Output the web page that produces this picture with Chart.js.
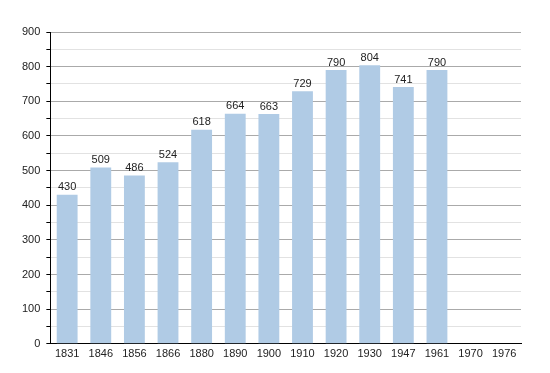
<!DOCTYPE html>
<html>
<head>
<meta charset="utf-8">
<script src="https://cdn.jsdelivr.net/npm/chart.js@4"></script>
<style>
    html, body { margin: 0; padding: 0; background: #fff; }
    #wrap { width: 550px; height: 373px; }
</style>
</head>
<body>
<div id="wrap"><canvas id="chart"></canvas></div>
<script>
const years = ["1831", "1846", "1856", "1866", "1880", "1890", "1900",
    "1910", "1920", "1930", "1947", "1961", "1970", "1976"];

const population = [430, 509, 486, 524, 618, 664, 663,
    729, 790, 804, 741, 790, null, null];

const yTicks = [0, 100, 200, 300, 400, 500, 600, 700, 800, 900];

const barColor = "#b0cbe5";

// values over the bars
const valueLabels = {
    id: "valueLabels",
    afterDatasetsDraw(chart) {
        const ctx = chart.ctx;
        const meta = chart.getDatasetMeta(0);
        ctx.save();
        ctx.font = "11px 'Liberation Sans', Arial, sans-serif";
        ctx.fillStyle = "#222";
        ctx.textAlign = "center";
        ctx.textBaseline = "bottom";
        meta.data.forEach((bar, i) => {
            const v = population[i];
            if (v == null) return;
            ctx.fillText(String(v), bar.x, bar.y - 2);
        });
        ctx.restore();
    }
};

new Chart(
    document.getElementById("chart").getContext("2d"),
{
    type: "bar",
    data: {
        labels: years,
        datasets: [{
            data: population,
            backgroundColor: barColor,
            borderWidth: 0,
            categoryPercentage: 1,
            barPercentage: 0.62
        }]
    },
    options: {
        responsive: true,
        maintainAspectRatio: false,
        animation: false,
        layout: {
            padding: { top: 32, right: 29, bottom: 8, left: 16 }
        },
        plugins: {
            legend: { display: false },
            tooltip: { enabled: false }
        },
        scales: {
            x: {
                grid: { display: false, drawTicks: false },
                border: { color: "#000", width: 1 },
                ticks: {
                    color: "#222",
                    padding: 4,
                    maxRotation: 0,
                    autoSkip: false,
                    font: { family: "'Liberation Sans', Arial, sans-serif", size: 11 }
                }
            },
            y: {
                min: 0,
                max: 900,
                border: { color: "#000", width: 1 },
                ticks: {
                    stepSize: 50,
                    color: "#222",
                    padding: 6,
                    autoSkip: false,
                    font: { family: "'Liberation Sans', Arial, sans-serif", size: 11 },
                    callback: (v) => yTicks.includes(v) ? String(v) : ""
                },
                grid: {
                    color: (c) => yTicks.includes(c.tick.value) ? "#aaaaaa" : "#e2e2e2",
                    tickColor: "#000",
                    tickLength: 4
                }
            }
        }
    },
    plugins: [valueLabels]
});
</script>
</body>
</html>
